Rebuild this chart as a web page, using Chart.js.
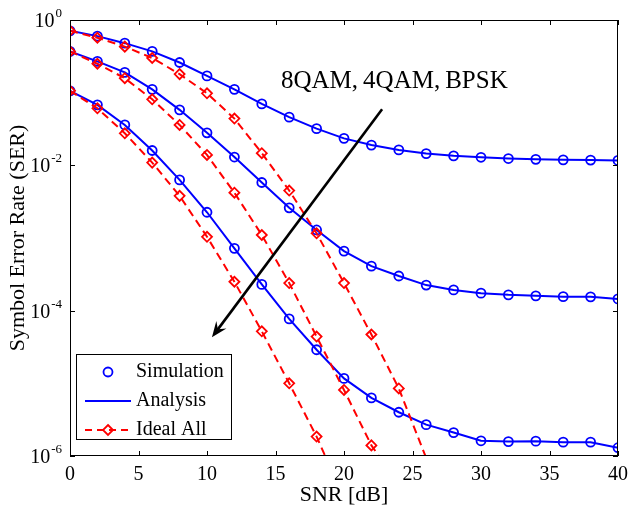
<!DOCTYPE html>
<html>
<head>
<meta charset="utf-8">
<script src="https://cdn.jsdelivr.net/npm/chart.js@4.4.1/dist/chart.umd.min.js"></script>
<style>
  html, body { margin: 0; padding: 0; background: #fff; }
  canvas { display: block; }
</style>
</head>
<body>
<canvas id="ser" width="630" height="517"></canvas>
<script>
// ---- data ----
const snr = [0, 2, 4, 6, 8, 10, 12, 14, 16, 18, 20, 22, 24, 26, 28, 30, 32, 34, 36, 38, 40];

// simulation / analysis (same curve, circles + solid line)
const ser8qam = [0.71, 0.60, 0.48, 0.37, 0.26, 0.17, 0.111, 0.070, 0.046, 0.032, 0.0235,
  0.019, 0.0163, 0.0145, 0.0135, 0.0129, 0.0124, 0.0121, 0.0119, 0.0118, 0.0117];
const ser4qam = [0.37, 0.27, 0.19, 0.111, 0.058, 0.028, 0.013, 0.0058, 0.0026, 0.00129, 6.6e-4,
  4.1e-4, 3.0e-4, 2.25e-4, 1.93e-4, 1.74e-4, 1.65e-4, 1.6e-4, 1.56e-4, 1.55e-4, 1.45e-4];
const serBpsk = [0.106, 0.068, 0.036, 0.016, 0.0063, 0.00226, 7.2e-4, 2.3e-4, 7.7e-5, 2.9e-5, 1.17e-5,
  6.3e-6, 4.0e-6, 2.7e-6, 2.1e-6, 1.62e-6, 1.58e-6, 1.6e-6, 1.55e-6, 1.55e-6, 1.3e-6];

// ideal (dashed red with diamonds), starting at SNR 0
const ideal8qam = [0.71, 0.57, 0.43, 0.30, 0.18, 0.098, 0.044, 0.0147, 0.0045, 0.00116, 2.4e-4, 4.7e-5, 8.5e-6, 9.4e-7];
const ideal4qam = [0.37, 0.25, 0.158, 0.081, 0.036, 0.0139, 0.0042, 0.0011, 2.4e-4, 4.4e-5, 8.1e-6, 1.4e-6, 4.0e-7];
const idealBpsk = [0.106, 0.061, 0.0276, 0.0109, 0.0038, 0.00104, 2.5e-4, 5.2e-5, 1.0e-5, 1.85e-6, 2.6e-7];

const xTicks = [0, 5, 10, 15, 20, 25, 30, 35, 40];
const yTickExps = [0, -2, -4, -6];
const Y_MIN = 1e-6, Y_MAX = 1;

const legendLabels = ['Simulation', 'Analysis', 'Ideal All'];
const noteText = '8QAM,\u20094QAM,\u2009BPSK';
// arrow in data coords [snr, ser]
const arrowFrom = [22.78, 0.059];
const arrowTo = [10.36, 4.3e-5];

const BLUE = '#0000ff', RED = '#ff0000';
const SERIF = '"Liberation Serif", "Times New Roman", serif';

const pts = vals => vals.map((v, i) => ({ x: snr[i], y: v }));

function analysis(vals) {
  return { data: pts(vals), showLine: true, borderColor: BLUE, borderWidth: 2, pointRadius: 0, order: 2 };
}
function simulation(vals) {
  return {
    data: pts(vals), showLine: false, pointStyle: 'circle', pointRadius: 4.5,
    pointBorderWidth: 1.8, pointBorderColor: BLUE, pointBackgroundColor: 'rgba(0,0,0,0)', order: 1,
  };
}
function ideal(vals) {
  return {
    data: pts(vals), showLine: true, borderColor: RED, borderWidth: 2, borderDash: [8, 5],
    pointStyle: 'rectRot', pointRadius: ctx => (ctx.raw && ctx.raw.y < Y_MIN ? 0 : 5),
    pointBorderWidth: 1.8, pointBorderColor: RED, pointBackgroundColor: 'rgba(0,0,0,0)', order: 0,
  };
}

// axes box, ticks, labels, arrow, note, legend
const decor = {
  id: 'decor',
  afterDatasetsDraw(chart) {
    const { ctx, chartArea: a, scales: { x, y } } = chart;
    ctx.save();

    // frame + inward ticks on all sides
    ctx.strokeStyle = '#000';
    ctx.lineWidth = 1;
    ctx.strokeRect(Math.round(a.left) + 0.5, Math.round(a.top) + 0.5,
      Math.round(a.right - a.left) - 1, Math.round(a.bottom - a.top) - 1);
    ctx.beginPath();
    xTicks.forEach(v => {
      const px = Math.round(x.getPixelForValue(v)) + 0.5;
      ctx.moveTo(px, a.bottom); ctx.lineTo(px, a.bottom - 5);
      ctx.moveTo(px, a.top); ctx.lineTo(px, a.top + 5);
    });
    yTickExps.forEach(e => {
      const py = Math.round(y.getPixelForValue(Math.pow(10, e))) + 0.5;
      ctx.moveTo(a.left, py); ctx.lineTo(a.left + 5, py);
      ctx.moveTo(a.right, py); ctx.lineTo(a.right - 5, py);
    });
    ctx.stroke();

    // tick labels
    ctx.fillStyle = '#000';
    ctx.font = '20px ' + SERIF;
    ctx.textAlign = 'center';
    ctx.textBaseline = 'alphabetic';
    xTicks.forEach(v => ctx.fillText(String(v), x.getPixelForValue(v), a.bottom + 24));

    yTickExps.forEach(e => {
      const py = y.getPixelForValue(Math.pow(10, e));
      const exp = String(e);
      ctx.font = '13px ' + SERIF;
      const ew = ctx.measureText(exp).width;
      ctx.textAlign = 'right';
      ctx.fillText(exp, a.left - 8, py - 3);
      ctx.font = '20px ' + SERIF;
      ctx.fillText('10', a.left - 9 - ew, py + 7);
    });

    // axis titles
    ctx.font = '22px ' + SERIF;
    ctx.textAlign = 'center';
    ctx.fillText('SNR [dB]', (a.left + a.right) / 2, a.bottom + 45);
    ctx.save();
    ctx.translate(18, (a.top + a.bottom) / 2);
    ctx.rotate(-Math.PI / 2);
    ctx.textBaseline = 'middle';
    ctx.fillText('Symbol Error Rate (SER)', 0, 0);
    ctx.restore();

    // arrow
    const x0 = x.getPixelForValue(arrowFrom[0]), y0 = y.getPixelForValue(arrowFrom[1]);
    const x1 = x.getPixelForValue(arrowTo[0]), y1 = y.getPixelForValue(arrowTo[1]);
    const ang = Math.atan2(y1 - y0, x1 - x0);
    const headLen = 17, headAng = 0.38;
    ctx.lineWidth = 2.6;
    ctx.beginPath();
    ctx.moveTo(x0, y0);
    ctx.lineTo(x1 - Math.cos(ang) * 8, y1 - Math.sin(ang) * 8);
    ctx.stroke();
    ctx.beginPath();
    ctx.moveTo(x1, y1);
    ctx.lineTo(x1 - headLen * Math.cos(ang - headAng), y1 - headLen * Math.sin(ang - headAng));
    ctx.lineTo(x1 - 10 * Math.cos(ang), y1 - 10 * Math.sin(ang));
    ctx.lineTo(x1 - headLen * Math.cos(ang + headAng), y1 - headLen * Math.sin(ang + headAng));
    ctx.closePath();
    ctx.fillStyle = '#000';
    ctx.fill();

    // note text
    ctx.font = '25px ' + SERIF;
    ctx.textAlign = 'left';
    ctx.textBaseline = 'alphabetic';
    ctx.fillText(noteText, 281, 88);

    // legend
    const lx = 76.5, ly = 354.5, lw = 155, lh = 85;
    ctx.fillStyle = '#fff';
    ctx.fillRect(lx, ly, lw, lh);
    ctx.lineWidth = 1;
    ctx.strokeStyle = '#000';
    ctx.strokeRect(lx, ly, lw, lh);
    const rows = [372, 401, 430];
    const sx0 = 85, sx1 = 131, sxm = 108;
    // simulation: circle
    ctx.strokeStyle = BLUE; ctx.lineWidth = 1.8;
    ctx.beginPath(); ctx.arc(sxm, rows[0], 4.5, 0, Math.PI * 2); ctx.stroke();
    // analysis: solid line
    ctx.lineWidth = 2;
    ctx.beginPath(); ctx.moveTo(sx0, rows[1]); ctx.lineTo(sx1, rows[1]); ctx.stroke();
    // ideal: dashed line + diamond
    ctx.strokeStyle = RED;
    ctx.setLineDash([7, 5]);
    ctx.beginPath(); ctx.moveTo(sx0, rows[2]); ctx.lineTo(sx1, rows[2]); ctx.stroke();
    ctx.setLineDash([]);
    ctx.lineWidth = 1.8;
    ctx.beginPath();
    ctx.moveTo(sxm, rows[2] - 5); ctx.lineTo(sxm + 5, rows[2]);
    ctx.lineTo(sxm, rows[2] + 5); ctx.lineTo(sxm - 5, rows[2]);
    ctx.closePath(); ctx.stroke();

    ctx.fillStyle = '#000';
    ctx.font = '20px ' + SERIF;
    ctx.textAlign = 'left';
    ctx.textBaseline = 'middle';
    legendLabels.forEach((t, i) => ctx.fillText(t, 136, rows[i]));

    ctx.restore();
  },
};

new Chart(document.getElementById('ser'), {
  type: 'scatter',
  data: {
    datasets: [
      ideal(ideal8qam), ideal(ideal4qam), ideal(idealBpsk),
      simulation(ser8qam), simulation(ser4qam), simulation(serBpsk),
      analysis(ser8qam), analysis(ser4qam), analysis(serBpsk),
    ],
  },
  options: {
    responsive: false,
    animation: false,
    layout: { padding: { left: 70, right: 12, top: 20, bottom: 61 } },
    plugins: { legend: { display: false }, tooltip: { enabled: false } },
    scales: {
      x: { type: 'linear', min: 0, max: 40, display: false },
      y: { type: 'logarithmic', min: Y_MIN, max: Y_MAX, display: false },
    },
  },
  plugins: [decor],
});
</script>
</body>
</html>
